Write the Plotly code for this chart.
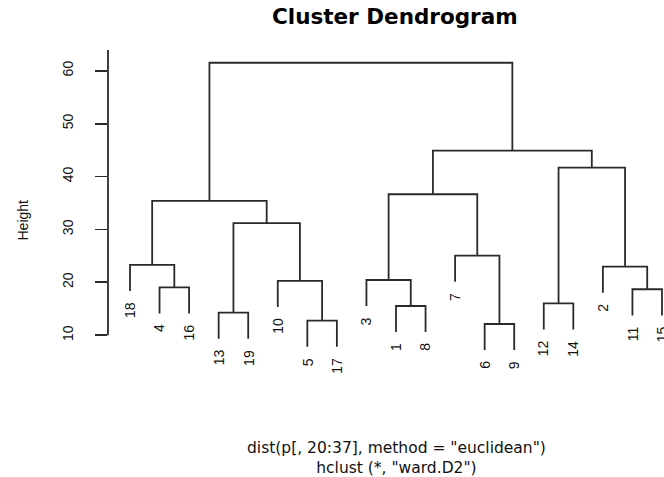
import plotly.graph_objects as go

# ---- data ----
leaf_order = [18, 4, 16, 13, 19, 10, 5, 17, 3, 1, 8, 7, 6, 9, 12, 14, 2, 11, 15]
# R-style merge matrix: negative = observation, positive = earlier merge (1-based)
merge_left = [-6, -5, -13, -1, -12, -11, -4, -10, -3, -2, -18, -7, 3, 11, 9, 5, 15, 14]
merge_right = [-9, -17, -19, -8, -14, -15, -16, 2, 4, 6, 7, 1, 8, 13, 12, 10, 16, 17]
merge_height = [12.14, 12.76, 14.3, 15.54, 16.05, 18.7, 19.07, 20.3, 20.45, 22.97,
                23.3, 25.05, 31.2, 35.4, 36.65, 41.7, 44.9, 61.5]
y_ticks = [10, 20, 30, 40, 50, 60]
title_text = "Cluster Dendrogram"
sub_line1 = 'dist(p[, 20:37], method = "euclidean")'
sub_line2 = 'hclust (*, "ward.D2")'
y_label = "Height"

# ---- dendrogram layout (like R's plot.hclust, hang = 0.1) ----
hang = 0.1 * (max(merge_height) - min(merge_height))
leaf_pos = {leaf: i + 1 for i, leaf in enumerate(leaf_order)}
node_x = {}


def cx(c):
    return leaf_pos[-c] if c < 0 else node_x[c]


for k in range(len(merge_height)):
    node_x[k + 1] = (cx(merge_left[k]) + cx(merge_right[k])) / 2

xs, ys = [], []
leaf_end = {}
for k, h in enumerate(merge_height):
    l, r = merge_left[k], merge_right[k]
    yl = merge_height[l - 1] if l > 0 else h - hang
    yr = merge_height[r - 1] if r > 0 else h - hang
    if l < 0:
        leaf_end[-l] = yl
    if r < 0:
        leaf_end[-r] = yr
    xs += [cx(l), cx(l), cx(r), cx(r), None]
    ys += [yl, h, h, yr, None]

LINE = "#2a2a2a"
ROT_FONT = "Liberation Sans, Arial, sans-serif"
HOR_FONT = "DejaVu Sans, sans-serif"

fig = go.Figure()
fig.add_trace(go.Scatter(x=xs, y=ys, mode="lines",
                         line=dict(color=LINE, width=1.8),
                         hoverinfo="skip", showlegend=False))

annotations = []
for leaf in leaf_order:
    annotations.append(dict(x=leaf_pos[leaf], y=leaf_end[leaf], xref="x", yref="y",
                            text=str(leaf), textangle=-90, showarrow=False,
                            xanchor="center", yanchor="top", yshift=-9,
                            font=dict(family=ROT_FONT, size=14, color="#111")))

# Plot area: pixels 108..664 horizontally, 45..395 vertically
L, T, B, H = 108, 45, 82, 477
W = 664
plot_h = H - T - B
plot_w = W - L


def py(p):
    return (H - B - p) / plot_h


def px(p):
    return (p - L) / plot_w


annotations += [
    dict(x=px(395), y=py(17), xref="paper", yref="paper", text="<b>" + title_text + "</b>",
         showarrow=False, xanchor="center", yanchor="middle",
         font=dict(family=HOR_FONT, size=21.5, color="#000")),
    dict(x=px(396), y=py(458), xref="paper", yref="paper",
         text=sub_line1 + "<br>" + sub_line2,
         showarrow=False, xanchor="center", yanchor="middle", align="center",
         font=dict(family=HOR_FONT, size=15.5, color="#111")),
    dict(x=px(22.5), y=0.5, xref="paper", yref="paper", text=y_label, textangle=-90,
         showarrow=False, xanchor="center", yanchor="middle",
         font=dict(family=ROT_FONT, size=14, color="#111")),
]

fig.update_layout(
    width=W, height=H,
    margin=dict(l=L, r=0, t=T, b=B, pad=0),
    paper_bgcolor="white", plot_bgcolor="white",
    showlegend=False,
    annotations=annotations,
    shapes=[dict(type="line", xref="paper", yref="y", x0=0, x1=0, y0=10, y1=63.9,
                 line=dict(color=LINE, width=1.8))],
    xaxis=dict(range=[0.256, 19.068], showgrid=False, zeroline=False,
               showticklabels=False, ticks="", showline=False, fixedrange=True),
    yaxis=dict(range=[-1.281, 64.856], showgrid=False, zeroline=False, showline=False,
               tickvals=y_ticks, ticktext=[str(v) for v in y_ticks],
               ticks="outside", ticklen=12, tickwidth=1.8, tickcolor=LINE,
               tickangle=-90, ticklabelstandoff=16,
               tickfont=dict(family=ROT_FONT, size=14, color="#111"),
               fixedrange=True),
)

fig.write_html(
    "out.html",
    config={"displayModeBar": False, "staticPlot": True},
    post_script="document.body.style.margin='0';document.body.style.overflow='hidden';",
)
